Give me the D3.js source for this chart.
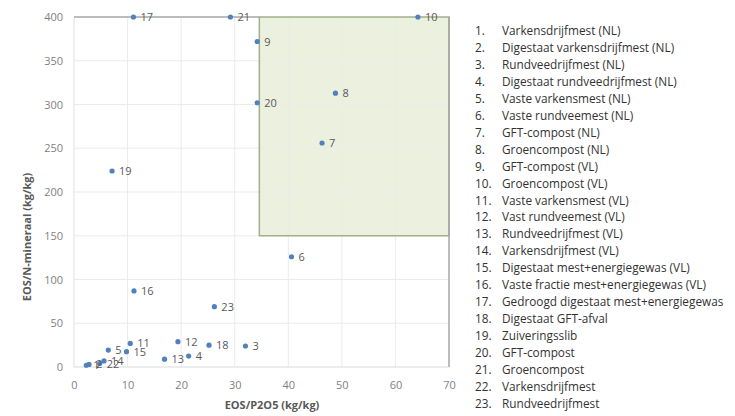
<!DOCTYPE html>
<html><head><meta charset="utf-8">
<script src="https://cdn.jsdelivr.net/npm/d3@7/dist/d3.min.js"></script>
<style>body{margin:0;background:#fff}svg{display:block}</style>
</head><body>
<svg id="c" width="735" height="416"></svg>
<script>
const ids     = [1,2,3,4,5,6,7,8,9,10,11,12,13,14,15,16,17,18,19,20,21,22,23];
const xValues = [2.3,2.8,32.0,21.4,6.4,40.6,46.3,48.8,34.2,64.2,10.5,19.4,16.9,5.6,9.8,11.2,11.1,25.2,7.1,34.2,29.2,4.8,26.2];
const yValues = [2,3,24,12.6,19.4,126,256,313,372,400,27,29,9,7,17.5,87,400,25,224,302,400,4,69];
const names = ["Varkensdrijfmest (NL)","Digestaat varkensdrijfmest (NL)","Rundveedrijfmest (NL)","Digestaat rundveedrijfmest (NL)","Vaste varkensmest (NL)","Vaste rundveemest (NL)","GFT-compost (NL)","Groencompost (NL)","GFT-compost (VL)","Groencompost (VL)","Vaste varkensmest (VL)","Vast rundveemest (VL)","Rundveedrijfmest (VL)","Varkensdrijfmest (VL)","Digestaat mest+energiegewas (VL)","Vaste fractie mest+energiegewas (VL)","Gedroogd digestaat mest+energiegewas","Digestaat GFT-afval","Zuiveringsslib","GFT-compost","Groencompost","Varkensdrijfmest","Rundveedrijfmest"];
const xTicks = [0,10,20,30,40,50,60,70];
const yTicks = [0,50,100,150,200,250,300,350,400];
const zone = {x0:34.6, x1:70, y0:150, y1:400};
const xTitle = "EOS/P2O5 (kg/kg)";
const yTitle = "EOS/N-mineraal (kg/kg)";

const svg = d3.select("#c");
const L=74, R=449, T=17, B=367;
const x = d3.scaleLinear().domain([0,70]).range([L,R]);
const y = d3.scaleLinear().domain([0,400]).range([B,T]);
const font = "'Open Sans', 'Liberation Sans', sans-serif";

// green zone fill
svg.append("rect")
  .attr("x",x(zone.x0)).attr("y",y(zone.y1))
  .attr("width",x(zone.x1)-x(zone.x0)).attr("height",y(zone.y0)-y(zone.y1))
  .attr("fill","#ebf1de");

// gridlines
svg.append("g").selectAll("line.v").data(xTicks.slice(1,-1)).join("line")
  .attr("x1",d=>x(d)).attr("x2",d=>x(d)).attr("y1",T).attr("y2",B)
  .attr("stroke","#ebebeb").attr("stroke-width",1);
svg.append("g").selectAll("line.h").data(yTicks.slice(1,-1)).join("line")
  .attr("x1",L).attr("x2",R).attr("y1",d=>y(d)).attr("y2",d=>y(d))
  .attr("stroke","#ebebeb").attr("stroke-width",1);

// green zone border
svg.append("rect")
  .attr("x",x(zone.x0)).attr("y",y(zone.y1))
  .attr("width",x(zone.x1)-x(zone.x0)).attr("height",y(zone.y0)-y(zone.y1))
  .attr("fill","none")
  .attr("stroke","#a3ae8c").attr("stroke-width",1.5);

// frame
svg.append("line").attr("x1",L).attr("x2",R).attr("y1",B).attr("y2",B).attr("stroke","#d9d9d9");
svg.append("line").attr("x1",L).attr("x2",L).attr("y1",T).attr("y2",B).attr("stroke","#e0e0e0");
svg.append("line").attr("x1",L).attr("x2",x(zone.x0)).attr("y1",T).attr("y2",T).attr("stroke","#a6a6a6").attr("stroke-width",1.5);
svg.append("line").attr("x1",R).attr("x2",R).attr("y1",T).attr("y2",B).attr("stroke","#a6a6a6").attr("stroke-width",1.5);

// axes tick labels
const xAxis = svg.append("g").attr("transform",`translate(0,${B})`)
  .call(d3.axisBottom(x).tickValues(xTicks).tickSize(0).tickPadding(14));
const yAxis = svg.append("g").attr("transform",`translate(${L},0)`)
  .call(d3.axisLeft(y).tickValues(yTicks).tickSize(0).tickPadding(11));
[xAxis,yAxis].forEach(a=>{
  a.select(".domain").remove();
  a.selectAll("text").attr("fill","#7f7f7f").style("font-family",font).style("font-size","11px");
});

// axis titles
svg.append("text").attr("x",272).attr("y",409).attr("text-anchor","middle")
  .attr("fill","#595959").style("font-family",font).style("font-size","11px").style("font-weight","bold").text(xTitle);
svg.append("text").attr("transform","translate(31,237) rotate(-90)").attr("text-anchor","middle")
  .attr("fill","#595959").style("font-family",font).style("font-size","11px").style("font-weight","bold").text(yTitle);

// points
const pts = ids.map((id,i)=>({id, x:xValues[i], y:yValues[i]}));
svg.append("g").selectAll("circle").data(pts).join("circle")
  .attr("cx",d=>x(d.x)).attr("cy",d=>y(d.y)).attr("r",2.6).attr("fill","#4f81bd");
svg.append("g").selectAll("text").data(pts).join("text")
  .attr("x",d=>x(d.x)+7).attr("y",d=>y(d.y)+4)
  .attr("fill","#595959").style("font-family",font).style("font-size","11px").text(d=>d.id);

// legend list
const leg = svg.append("g");
ids.forEach((id,i)=>{
  const yy = 35 + i*16.95;
  leg.append("text").attr("x",475).attr("y",yy).attr("fill","#333333")
    .style("font-family",font).style("font-size","11.8px").text(id+".");
  leg.append("text").attr("x",502).attr("y",yy).attr("fill","#333333")
    .style("font-family",font).style("font-size","11.8px").text(names[i]);
});
</script>
</body></html>
